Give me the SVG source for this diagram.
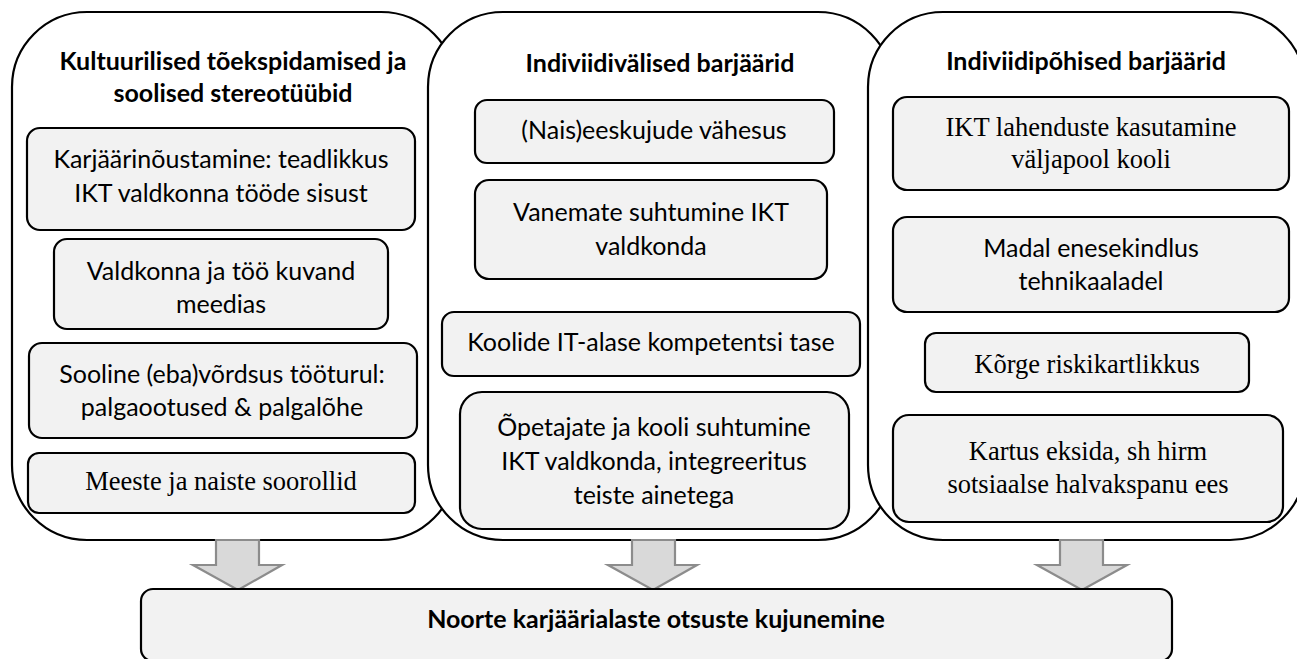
<svg xmlns="http://www.w3.org/2000/svg" width="1297" height="659" viewBox="0 0 1297 659">
<style>
.panel{fill:#ffffff;stroke:#000;stroke-width:2.2}
.box{fill:#f2f2f2;stroke:#000;stroke-width:2.2}
.t{font-family:Lato,"Open Sans",sans-serif;font-size:25px;fill:#000;text-anchor:middle}
.h{font-family:Lato,"Open Sans",sans-serif;font-size:25px;font-weight:bold;fill:#000;text-anchor:middle}
.s{font-family:"Liberation Serif","Times New Roman",serif;font-size:26.5px;fill:#000;text-anchor:middle}
.arrow{fill:#d9d9d9;stroke:#8c8c8c;stroke-width:2.2;stroke-linejoin:miter}
</style>
<rect width="1297" height="659" fill="#ffffff"/>
<g id="panel-cultural">
  <rect class="panel" x="12" y="12" width="444" height="528" rx="75" ry="75"/>
  <text class="h" x="233" y="70">Kultuurilised tõekspidamised ja</text>
  <text class="h" x="233" y="102">soolised stereotüübid</text>
  <g id="box-karjaar">
    <rect class="box" x="27" y="128" width="388" height="102" rx="13"/>
    <text class="t" x="221" y="168">Karjäärinõustamine: teadlikkus</text>
    <text class="t" x="221" y="202">IKT valdkonna tööde sisust</text>
  </g>
  <g id="box-meedia">
    <rect class="box" x="54" y="239" width="334" height="90" rx="13"/>
    <text class="t" x="221" y="280">Valdkonna ja töö kuvand</text>
    <text class="t" x="221" y="313">meedias</text>
  </g>
  <g id="box-vordsus">
    <rect class="box" x="29" y="343" width="388" height="95" rx="13"/>
    <text class="t" x="222" y="383">Sooline (eba)võrdsus tööturul:</text>
    <text class="t" x="222" y="416">palgaootused &amp; palgalõhe</text>
  </g>
  <g id="box-soorollid">
    <rect class="box" x="28" y="453" width="387" height="60" rx="11"/>
    <text class="s" x="221" y="490">Meeste ja naiste soorollid</text>
  </g>
</g>
<g id="panel-individual">
  <rect class="panel" x="428" y="12" width="465" height="528" rx="75" ry="75"/>
  <text class="h" x="660" y="72">Indiviidivälised barjäärid</text>
  <g id="box-eeskujud">
    <rect class="box" x="475" y="100" width="359" height="63" rx="12"/>
    <text class="t" x="654" y="139">(Nais)eeskujude vähesus</text>
  </g>
  <g id="box-vanemad">
    <rect class="box" x="475" y="180" width="352" height="99" rx="14"/>
    <text class="t" x="651" y="221">Vanemate suhtumine IKT</text>
    <text class="t" x="651" y="255">valdkonda</text>
  </g>
  <g id="box-koolid">
    <rect class="box" x="442" y="312" width="418" height="64" rx="12"/>
    <text class="t" x="651" y="351">Koolide IT-alase kompetentsi tase</text>
  </g>
  <g id="box-opetajad">
    <rect class="box" x="460" y="392" width="389" height="137" rx="22"/>
    <text class="t" x="654" y="436">Õpetajate ja kooli suhtumine</text>
    <text class="t" x="654" y="470">IKT valdkonda, integreeritus</text>
    <text class="t" x="654" y="504">teiste ainetega</text>
  </g>
</g>
<g id="panel-person">
  <rect class="panel" x="868" y="12" width="437" height="528" rx="75" ry="75"/>
  <text class="h" x="1086" y="70">Indiviidipõhised barjäärid</text>
  <g id="box-ikt">
    <rect class="box" x="893" y="97" width="396" height="93" rx="14"/>
    <text class="s" x="1091" y="136">IKT lahenduste kasutamine</text>
    <text class="s" x="1091" y="168">väljapool kooli</text>
  </g>
  <g id="box-enesekindlus">
    <rect class="box" x="893" y="217" width="396" height="95" rx="14"/>
    <text class="t" x="1091" y="257">Madal enesekindlus</text>
    <text class="t" x="1091" y="290">tehnikaaladel</text>
  </g>
  <g id="box-risk">
    <rect class="box" x="925" y="333" width="324" height="59" rx="11"/>
    <text class="s" x="1087" y="373">Kõrge riskikartlikkus</text>
  </g>
  <g id="box-kartus">
    <rect class="box" x="893" y="415" width="390" height="107" rx="16"/>
    <text class="s" x="1088" y="460">Kartus eksida, sh hirm</text>
    <text class="s" x="1088" y="493">sotsiaalse halvakspanu ees</text>
  </g>
</g>
<g id="connectors">
  <polygon class="arrow" points="216,540 259,540 259,565 282,565 238,590 193,565 216,565"/>
  <polygon class="arrow" points="632,540 675,540 675,565 697,565 653,590 608,565 632,565"/>
  <polygon class="arrow" points="1060,540 1103,540 1103,565 1127,565 1082,590 1037,565 1060,565"/>
</g>
<g id="box-result">
  <rect class="box" x="141" y="589" width="1031" height="72" rx="12"/>
  <text class="h" x="656" y="628">Noorte karjäärialaste otsuste kujunemine</text>
</g>
</svg>
